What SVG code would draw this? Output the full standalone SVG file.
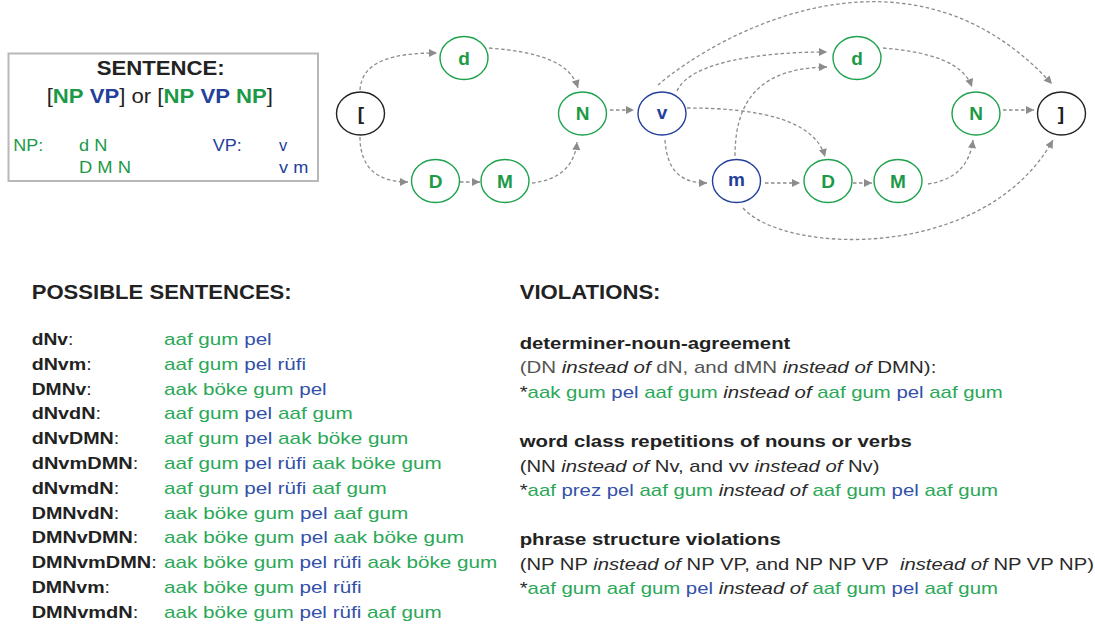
<svg xmlns="http://www.w3.org/2000/svg" width="1095" height="626" viewBox="0 0 1095 626">
<defs>
<style>
text { font-family: "Liberation Sans", Arial, sans-serif; }
.b { font-weight: bold; }
.i { font-style: italic; }
.g { fill: #2aa858; }
.bl { fill: #3350a8; }
.k { fill: #222; }
.gr { fill: #555; }
.dk { fill: #2a2a2a; }
.ng { fill: #1c9a48; }
.nb { fill: #23409a; }
.h { font-size: 20px; font-weight: bold; fill: #222; }
.nl { font-size: 19px; font-weight: bold; text-anchor: middle; }
ellipse { fill: #fff; stroke-width: 1.4; }
.eg { stroke: #1fa24e; }
.eb { stroke: #24409a; }
.ek { stroke: #222; }
.edge { fill: none; stroke: #8c8c8c; stroke-width: 1.3; stroke-dasharray: 3.5 2.5; marker-end: url(#arr); }
</style>
<marker id="arr" viewBox="0 0 10 10" refX="10" refY="5" markerWidth="9" markerHeight="8" markerUnits="userSpaceOnUse" orient="auto">
<path d="M0,0 L10,5 L0,10 z" fill="#8c8c8c"/>
</marker>
</defs>
<rect width="1095" height="626" fill="#fff"/>

<g id="legend">
<rect x="8.5" y="53.5" width="309.5" height="127.5" fill="#fff" stroke="#b8b8b8" stroke-width="2"/>
<text class="h" x="96.7" y="75" textLength="128" lengthAdjust="spacingAndGlyphs">SENTENCE:</text>
<text x="46.7" y="103.3" font-size="20" textLength="226.3" lengthAdjust="spacingAndGlyphs"><tspan class="k">[</tspan><tspan class="b ng">NP</tspan> <tspan class="b nb">VP</tspan><tspan class="k">] or [</tspan><tspan class="b ng">NP</tspan> <tspan class="b nb">VP</tspan> <tspan class="b ng">NP</tspan><tspan class="k">]</tspan></text>
<text class="ng" font-size="16.5" x="13.3" y="151" textLength="30" lengthAdjust="spacingAndGlyphs">NP:</text>
<text class="ng" font-size="16.5" x="79" y="151" textLength="28.3" lengthAdjust="spacingAndGlyphs">d N</text>
<text class="ng" font-size="16.5" x="79" y="173.3" textLength="52" lengthAdjust="spacingAndGlyphs">D M N</text>
<text class="nb" font-size="16.5" x="212.7" y="151" textLength="29" lengthAdjust="spacingAndGlyphs">VP:</text>
<text class="nb" font-size="16.5" x="279" y="151">v</text>
<text class="nb" font-size="16.5" x="279" y="173.3" textLength="29.3" lengthAdjust="spacingAndGlyphs">v m</text>
</g>

<g id="connectors">
<path class="edge" d="M360,90 C362,60 395,53 437,53"/>
<path class="edge" d="M489,48 C540,52 570,62 578,88"/>
<path class="edge" d="M360,137 C360,170 380,182 408,182"/>
<path class="edge" d="M460,182 L480,182"/>
<path class="edge" d="M532,183 C560,180 575,165 577,142"/>
<path class="edge" d="M610,110 L634,110"/>
<path class="edge" d="M658,85 C720,32 910,-72 1052,84"/>
<path class="edge" d="M677,91 C690,62 760,52 827,52"/>
<path class="edge" d="M687,108 C760,108 815,120 825,157"/>
<path class="edge" d="M665,140 C667,170 680,183 707,183"/>
<path class="edge" d="M735,156 C735,100 760,68 827,67"/>
<path class="edge" d="M765,183 L800,183"/>
<path class="edge" d="M853,183 L872,183"/>
<path class="edge" d="M928,184 C955,180 970,165 973,140"/>
<path class="edge" d="M883,48 C930,52 963,62 972,87"/>
<path class="edge" d="M1003,110 L1034,110"/>
<path class="edge" d="M743,208 C785,255 985,262 1053,140"/>
</g>

<g id="node-open"><ellipse class="ek" cx="360.5" cy="113.5" rx="24" ry="21.5"/><text class="nl" x="361" y="120" fill="#222">[</text></g>
<g id="node-d1"><ellipse class="eg" cx="464" cy="58" rx="24" ry="21.5"/><text class="nl ng" x="464" y="64.8">d</text></g>
<g id="node-D1"><ellipse class="eg" cx="435.5" cy="181" rx="24" ry="21.5"/><text class="nl ng" x="435.5" y="187.8">D</text></g>
<g id="node-M1"><ellipse class="eg" cx="505" cy="181" rx="24" ry="21.5"/><text class="nl ng" x="505" y="187.8">M</text></g>
<g id="node-N1"><ellipse class="eg" cx="582.5" cy="113.5" rx="24" ry="21.5"/><text class="nl ng" x="582.5" y="120.3">N</text></g>
<g id="node-v"><ellipse class="eb" cx="662" cy="113.5" rx="24" ry="21.5"/><text class="nl nb" x="662" y="118.8">v</text></g>
<g id="node-m"><ellipse class="eb" cx="736.5" cy="181" rx="24" ry="21.5"/><text class="nl nb" x="736.5" y="186.3">m</text></g>
<g id="node-d2"><ellipse class="eg" cx="857" cy="58" rx="24" ry="21.5"/><text class="nl ng" x="857" y="64.8">d</text></g>
<g id="node-D2"><ellipse class="eg" cx="828" cy="181" rx="24" ry="21.5"/><text class="nl ng" x="828" y="187.8">D</text></g>
<g id="node-M2"><ellipse class="eg" cx="898" cy="181" rx="24" ry="21.5"/><text class="nl ng" x="898" y="187.8">M</text></g>
<g id="node-N2"><ellipse class="eg" cx="976" cy="113.5" rx="24" ry="21.5"/><text class="nl ng" x="976" y="120.3">N</text></g>
<g id="node-close"><ellipse class="ek" cx="1061.5" cy="113.5" rx="24" ry="21.5"/><text class="nl" x="1061" y="120" fill="#222">]</text></g>

<g id="sentences">
<text class="h" x="31.7" y="299.3" textLength="260" lengthAdjust="spacingAndGlyphs">POSSIBLE SENTENCES:</text>
<g font-size="17">
<text x="31.7" y="345" textLength="41.6" lengthAdjust="spacingAndGlyphs"><tspan class="b k">dNv</tspan><tspan class="k">:</tspan></text>
<text x="164" y="345" textLength="107.7" lengthAdjust="spacingAndGlyphs"><tspan class="g">aaf gum</tspan> <tspan class="bl">pel</tspan></text>
<text x="31.7" y="369.8" textLength="60" lengthAdjust="spacingAndGlyphs"><tspan class="b k">dNvm</tspan><tspan class="k">:</tspan></text>
<text x="164" y="369.8" textLength="142" lengthAdjust="spacingAndGlyphs"><tspan class="g">aaf gum</tspan> <tspan class="bl">pel rüfi</tspan></text>
<text x="31.7" y="394.6" textLength="60" lengthAdjust="spacingAndGlyphs"><tspan class="b k">DMNv</tspan><tspan class="k">:</tspan></text>
<text x="164" y="394.6" textLength="162.7" lengthAdjust="spacingAndGlyphs"><tspan class="g">aak böke gum</tspan> <tspan class="bl">pel</tspan></text>
<text x="31.7" y="419.4" textLength="69.3" lengthAdjust="spacingAndGlyphs"><tspan class="b k">dNvdN</tspan><tspan class="k">:</tspan></text>
<text x="164" y="419.4" textLength="188.7" lengthAdjust="spacingAndGlyphs"><tspan class="g">aaf gum</tspan> <tspan class="bl">pel</tspan> <tspan class="g">aaf gum</tspan></text>
<text x="31.7" y="444.2" textLength="87.6" lengthAdjust="spacingAndGlyphs"><tspan class="b k">dNvDMN</tspan><tspan class="k">:</tspan></text>
<text x="164" y="444.2" textLength="244.3" lengthAdjust="spacingAndGlyphs"><tspan class="g">aaf gum</tspan> <tspan class="bl">pel</tspan> <tspan class="g">aak böke gum</tspan></text>
<text x="31.7" y="469" textLength="106.6" lengthAdjust="spacingAndGlyphs"><tspan class="b k">dNvmDMN</tspan><tspan class="k">:</tspan></text>
<text x="164" y="469" textLength="277.7" lengthAdjust="spacingAndGlyphs"><tspan class="g">aaf gum</tspan> <tspan class="bl">pel rüfi</tspan> <tspan class="g">aak böke gum</tspan></text>
<text x="31.7" y="493.8" textLength="87.6" lengthAdjust="spacingAndGlyphs"><tspan class="b k">dNvmdN</tspan><tspan class="k">:</tspan></text>
<text x="164" y="493.8" textLength="222.7" lengthAdjust="spacingAndGlyphs"><tspan class="g">aaf gum</tspan> <tspan class="bl">pel rüfi</tspan> <tspan class="g">aaf gum</tspan></text>
<text x="31.7" y="518.6" textLength="87.6" lengthAdjust="spacingAndGlyphs"><tspan class="b k">DMNvdN</tspan><tspan class="k">:</tspan></text>
<text x="164" y="518.6" textLength="244.3" lengthAdjust="spacingAndGlyphs"><tspan class="g">aak böke gum</tspan> <tspan class="bl">pel</tspan> <tspan class="g">aaf gum</tspan></text>
<text x="31.7" y="543.4" textLength="106.6" lengthAdjust="spacingAndGlyphs"><tspan class="b k">DMNvDMN</tspan><tspan class="k">:</tspan></text>
<text x="164" y="543.4" textLength="300" lengthAdjust="spacingAndGlyphs"><tspan class="g">aak böke gum</tspan> <tspan class="bl">pel</tspan> <tspan class="g">aak böke gum</tspan></text>
<text x="31.7" y="568.2" textLength="125" lengthAdjust="spacingAndGlyphs"><tspan class="b k">DMNvmDMN</tspan><tspan class="k">:</tspan></text>
<text x="164" y="568.2" textLength="333.3" lengthAdjust="spacingAndGlyphs"><tspan class="g">aak böke gum</tspan> <tspan class="bl">pel rüfi</tspan> <tspan class="g">aak böke gum</tspan></text>
<text x="31.7" y="593" textLength="78.3" lengthAdjust="spacingAndGlyphs"><tspan class="b k">DMNvm</tspan><tspan class="k">:</tspan></text>
<text x="164" y="593" textLength="197.7" lengthAdjust="spacingAndGlyphs"><tspan class="g">aak böke gum</tspan> <tspan class="bl">pel rüfi</tspan></text>
<text x="31.7" y="617.8" textLength="106.6" lengthAdjust="spacingAndGlyphs"><tspan class="b k">DMNvmdN</tspan><tspan class="k">:</tspan></text>
<text x="164" y="617.8" textLength="277.7" lengthAdjust="spacingAndGlyphs"><tspan class="g">aak böke gum</tspan> <tspan class="bl">pel rüfi</tspan> <tspan class="g">aaf gum</tspan></text>
</g>
</g>

<g id="violations">
<text class="h" x="519.7" y="299.3" textLength="140.8" lengthAdjust="spacingAndGlyphs">VIOLATIONS:</text>
<g font-size="17">
<text class="b k" x="519.7" y="348.5" textLength="270.6" lengthAdjust="spacingAndGlyphs">determiner-noun-agreement</text>
<text x="519.7" y="373" textLength="416.7" lengthAdjust="spacingAndGlyphs"><tspan class="gr">(DN </tspan><tspan class="i dk">instead of</tspan><tspan class="gr"> dN, and dMN </tspan><tspan class="i dk">instead of</tspan><tspan class="dk"> DMN):</tspan></text>
<text x="519.7" y="397.5" textLength="483.1" lengthAdjust="spacingAndGlyphs"><tspan class="dk">*</tspan><tspan class="g">aak gum</tspan> <tspan class="bl">pel</tspan> <tspan class="g">aaf gum</tspan> <tspan class="i dk">instead of</tspan> <tspan class="g">aaf gum</tspan> <tspan class="bl">pel</tspan> <tspan class="g">aaf gum</tspan></text>
<text class="b k" x="519.7" y="447" textLength="392.1" lengthAdjust="spacingAndGlyphs">word class repetitions of nouns or verbs</text>
<text x="519.7" y="471.5" textLength="359.8" lengthAdjust="spacingAndGlyphs"><tspan class="dk">(NN </tspan><tspan class="i dk">instead of</tspan><tspan class="dk"> Nv, and vv </tspan><tspan class="i dk">instead of</tspan><tspan class="dk"> Nv)</tspan></text>
<text x="519.7" y="496" textLength="478.2" lengthAdjust="spacingAndGlyphs"><tspan class="dk">*</tspan><tspan class="g">aaf</tspan> <tspan class="bl">prez pel</tspan> <tspan class="g">aaf gum</tspan> <tspan class="i dk">instead of</tspan> <tspan class="g">aaf gum</tspan> <tspan class="bl">pel</tspan> <tspan class="g">aaf gum</tspan></text>
<text class="b k" x="519.7" y="545" textLength="261.1" lengthAdjust="spacingAndGlyphs">phrase structure violations</text>
<text x="519.7" y="569.5" textLength="574.2" lengthAdjust="spacingAndGlyphs"><tspan class="dk">(NP NP </tspan><tspan class="i dk">instead of</tspan><tspan class="dk"> NP VP, and NP NP VP&#160; </tspan><tspan class="i dk">instead of</tspan><tspan class="dk"> NP VP NP)</tspan></text>
<text x="519.7" y="594" textLength="478.2" lengthAdjust="spacingAndGlyphs"><tspan class="dk">*</tspan><tspan class="g">aaf gum aaf gum</tspan> <tspan class="bl">pel</tspan> <tspan class="i dk">instead of</tspan> <tspan class="g">aaf gum</tspan> <tspan class="bl">pel</tspan> <tspan class="g">aaf gum</tspan></text>
</g>
</g>
</svg>
